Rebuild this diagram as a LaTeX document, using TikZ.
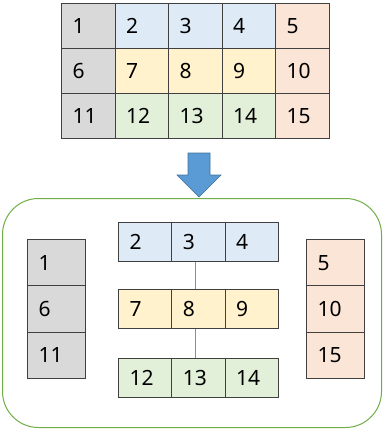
\documentclass[tikz,border=0pt]{standalone}
\usepackage{fontspec}
\setmainfont{Noto Sans}
\usetikzlibrary{backgrounds}
\definecolor{cgray}{HTML}{D9D9D9}
\definecolor{cblue}{HTML}{DEEBF7}
\definecolor{cyel}{HTML}{FFF2CC}
\definecolor{cgreen}{HTML}{E2F0D9}
\definecolor{corange}{HTML}{FBE5D6}
\definecolor{arrowfill}{HTML}{5B9BD5}
\definecolor{arrowline}{HTML}{41719C}
\definecolor{boxgreen}{HTML}{70AD47}
\definecolor{cellline}{HTML}{404040}
\tikzset{
  cell/.style={draw=cellline, line width=1pt, rectangle, anchor=north west,
    inner xsep=11pt, inner ysep=0pt, align=left,
    font=\fontsize{21}{25}\selectfont},
  tcell/.style={cell, text width=31.5pt, minimum height=45pt},
  bcell/.style={cell, text width=31.3pt, minimum height=39pt},
  vcell/.style={cell, text width=36pt, minimum height=46.3pt},
  link/.style={draw=arrowfill, line width=0.8pt},
}
\begin{document}
\begin{tikzpicture}[x=1pt,y=-1pt]
\useasboundingbox (0,0) rectangle (383,429);
% top grid
\node[tcell, fill=cgray]   (t1)  at (61,3)    {1};
\node[tcell, fill=cblue]   (t2)  at (114.5,3) {2};
\node[tcell, fill=cblue]   (t3)  at (168,3)   {3};
\node[tcell, fill=cblue]   (t4)  at (221.5,3) {4};
\node[tcell, fill=corange] (t5)  at (275,3)   {5};
\node[tcell, fill=cgray]   (t6)  at (61,48)    {6};
\node[tcell, fill=cyel]    (t7)  at (114.5,48) {7};
\node[tcell, fill=cyel]    (t8)  at (168,48)   {8};
\node[tcell, fill=cyel]    (t9)  at (221.5,48) {9};
\node[tcell, fill=corange] (t10) at (275,48)   {10};
\node[tcell, fill=cgray]   (t11) at (61,93)    {11};
\node[tcell, fill=cgreen]  (t12) at (114.5,93) {12};
\node[tcell, fill=cgreen]  (t13) at (168,93)   {13};
\node[tcell, fill=cgreen]  (t14) at (221.5,93) {14};
\node[tcell, fill=corange] (t15) at (275,93)   {15};
% down arrow
\draw[fill=arrowfill, draw=arrowline, line width=0.6pt]
  (188,153) -- (210,153) -- (210,175) -- (221,175) -- (199,197) -- (177,175) -- (188,175) -- cycle;
% green rounded box
\node[draw=boxgreen, line width=1pt, rounded corners=36pt, minimum width=379pt,
  minimum height=229pt, anchor=north west, inner sep=0pt] (box) at (2,198) {};
% left column
\node[vcell, fill=cgray] (l1)  at (27,239)   {1};
\node[vcell, fill=cgray] (l6)  at (27,285.3) {6};
\node[vcell, fill=cgray] (l11) at (27,331.6) {11};
% right column
\node[vcell, fill=corange] (r5)  at (306,239)   {5};
\node[vcell, fill=corange] (r10) at (306,285.3) {10};
\node[vcell, fill=corange] (r15) at (306,331.6) {15};
% middle rows
\node[bcell, fill=cblue] (m2) at (118,222) {2};
\node[bcell, fill=cblue] (m3) at (171.3,222) {3};
\node[bcell, fill=cblue] (m4) at (224.6,222) {4};
\node[bcell, fill=cyel] (m7) at (118,289) {7};
\node[bcell, fill=cyel] (m8) at (171.3,289) {8};
\node[bcell, fill=cyel] (m9) at (224.6,289) {9};
\node[bcell, fill=cgreen] (m12) at (118,358) {12};
\node[bcell, fill=cgreen] (m13) at (171.3,358) {13};
\node[bcell, fill=cgreen] (m14) at (224.6,358) {14};
\begin{scope}[on background layer]
\draw[link] ([xshift=-3pt]m3.south) -- ([xshift=-3pt]m13.north);
\end{scope}
\end{tikzpicture}
\end{document}
